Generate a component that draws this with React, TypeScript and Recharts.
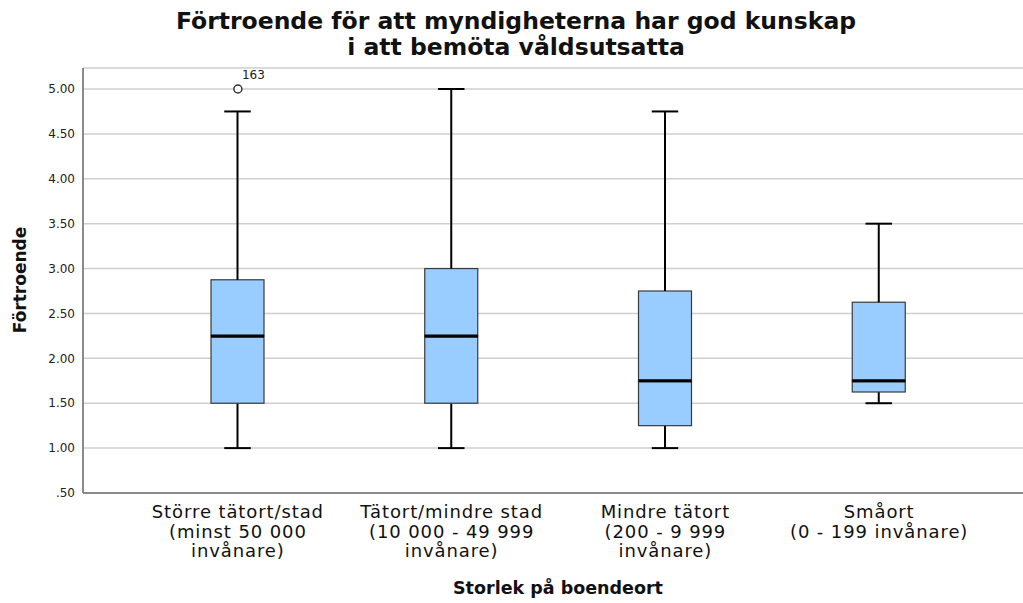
import { Bar, CartesianGrid, ComposedChart, Scatter, XAxis, YAxis } from "recharts";

const categories = [
  "Större tätort/stad|(minst 50 000|invånare)",
  "Tätort/mindre stad|(10 000 - 49 999|invånare)",
  "Mindre tätort|(200 - 9 999|invånare)",
  "Småort|(0 - 199 invånare)",
];
const mins = [1.0, 1.0, 1.0, 1.5];
const q1s = [1.5, 1.5, 1.25, 1.625];
const medians = [2.25, 2.25, 1.75, 1.75];
const q3s = [2.875, 3.0, 2.75, 2.625];
const maxs = [4.75, 5.0, 4.75, 3.5];
const outliers = [5.0, null, null, null];
const outlierIds = ["163", "", "", ""];
const yTicks = [0.5, 1, 1.5, 2, 2.5, 3, 3.5, 4, 4.5, 5];

const data = categories.map((name, i) => ({
  name,
  base: mins[i],
  lowWhisker: q1s[i] - mins[i],
  lowBox: medians[i] - q1s[i],
  highBox: q3s[i] - medians[i],
  highWhisker: maxs[i] - q3s[i],
  outlier: outliers[i],
  outlierId: outlierIds[i],
}));

const FONT = "'DejaVu Sans', sans-serif";
const BOX_FILL = "#99ccff";

const WhiskerShape = (props: any, atBottom: boolean) => {
  const { x, y, width, height } = props;
  const cx = x + width / 2;
  const capY = atBottom ? y + height : y;
  return (
    <g>
      <line x1={cx} x2={cx} y1={y} y2={y + height} stroke="#000" strokeWidth={2} />
      <line x1={cx - width / 4} x2={cx + width / 4} y1={capY} y2={capY} stroke="#000" strokeWidth={2} />
    </g>
  );
};

const BoxShape = (props: any, medianOnTop: boolean) => {
  const { x, y, width, height } = props;
  const my = medianOnTop ? y : y + height;
  return (
    <g>
      <rect x={x} y={y} width={width} height={height} fill={BOX_FILL} stroke="#3a3a3a" strokeWidth={1.2} />
      <line x1={x} x2={x + width} y1={my} y2={my} stroke="#000" strokeWidth={3} />
    </g>
  );
};

const OutlierShape = (props: any) => {
  const { cx, cy, payload } = props;
  if (payload == null || payload.outlier == null || !isFinite(cy)) return <g />;
  return (
    <g>
      <circle cx={cx} cy={cy} r={4} fill="#fff" stroke="#333" strokeWidth={1.5} />
      <text x={cx + 4} y={cy - 10} fontSize={12} fill="#222" fontFamily={FONT}>
        {payload.outlierId}
      </text>
    </g>
  );
};

const CategoryTick = (props: any) => {
  const { x, y, payload } = props;
  const lines = String(payload.value).split("|");
  return (
    <text x={x} y={y} textAnchor="middle" fontSize={18} letterSpacing={0.9} fill="#111" fontFamily={FONT}>
      {lines.map((line, i) => (
        <tspan key={i} x={x} dy={i === 0 ? 17 : 19.5}>
          {line}
        </tspan>
      ))}
    </text>
  );
};

const formatTick = (v: number) => (v < 1 ? v.toFixed(2).replace(/^0/, "") : v.toFixed(2));

export default function App() {
  return (
    <div style={{ position: "absolute", left: 0, top: 0, width: 1023, height: 603, background: "#fff" }}>
      <div
        style={{
          position: "absolute",
          left: 0,
          top: 8,
          width: 1032,
          textAlign: "center",
          fontFamily: FONT,
          fontWeight: "bold",
          fontSize: 23.5,
          lineHeight: "26px",
          color: "#111",
        }}
      >
        Förtroende för att myndigheterna har god kunskap
        <br />i att bemöta våldsutsatta
      </div>
      <div
        style={{
          position: "absolute",
          left: 20,
          top: 280,
          transform: "translate(-50%, -50%) rotate(-90deg)",
          fontFamily: FONT,
          fontWeight: "bold",
          fontSize: 17,
          color: "#111",
          whiteSpace: "nowrap",
        }}
      >
        Förtroende
      </div>
      <div
        style={{
          position: "absolute",
          left: 88,
          top: 578,
          width: 940,
          textAlign: "center",
          fontFamily: FONT,
          fontWeight: "bold",
          fontSize: 17.5,
          color: "#111",
        }}
      >
        Storlek på boendeort
      </div>
      <ComposedChart
        width={1023}
        height={603}
        data={data}
        margin={{ top: 68, right: 0, bottom: 30, left: 0 }}
      >
        <CartesianGrid vertical={false} stroke="#cfcfcf" strokeWidth={1.5} />
        <XAxis
          dataKey="name"
          type="category"
          height={80}
          padding={{ left: 48, right: 37 }}
          tickLine={false}
          axisLine={{ stroke: "#8a8a8a", strokeWidth: 2 }}
          tick={<CategoryTick />}
          interval={0}
        />
        <YAxis
          width={83}
          type="number"
          domain={[0.5, 5.234]}
          allowDataOverflow
          ticks={yTicks}
          tickFormatter={formatTick}
          tickLine={false}
          axisLine={{ stroke: "#8a8a8a", strokeWidth: 2 }}
          tick={{ fontSize: 12, fill: "#222", fontFamily: FONT }}
        />
        <Bar dataKey="base" stackId="box" barSize={53} fill="none" shape={() => <g />} isAnimationActive={false} />
        <Bar dataKey="lowWhisker" stackId="box" barSize={53} shape={(p: any) => WhiskerShape(p, true)} isAnimationActive={false} />
        <Bar dataKey="lowBox" stackId="box" barSize={53} shape={(p: any) => BoxShape(p, true)} isAnimationActive={false} />
        <Bar dataKey="highBox" stackId="box" barSize={53} shape={(p: any) => BoxShape(p, false)} isAnimationActive={false} />
        <Bar dataKey="highWhisker" stackId="box" barSize={53} shape={(p: any) => WhiskerShape(p, false)} isAnimationActive={false} />
        <Scatter dataKey="outlier" shape={OutlierShape} isAnimationActive={false} />
      </ComposedChart>
    </div>
  );
}
